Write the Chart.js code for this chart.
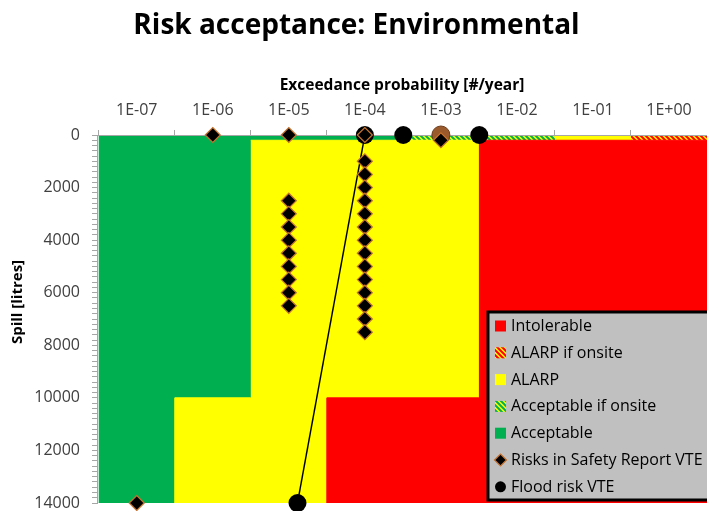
<!DOCTYPE html>
<html>
<head>
<meta charset="utf-8">
<title>Risk acceptance: Environmental</title>
<script src="https://cdn.jsdelivr.net/npm/chart.js@4.4.1/dist/chart.umd.min.js"></script>
<style>
  html, body { margin: 0; padding: 0; background: #ffffff; overflow: hidden; }
  #wrap { width: 707px; height: 511px; position: relative; overflow: hidden; }
  #riskChart { display: block; width: 707px; height: 511px; }
</style>
</head>
<body>
<div id="wrap"><canvas id="riskChart" width="707" height="511"></canvas></div>
<script>
// ---- Axis ticks -------------------------------------------------------------
// Half-decade boundaries carry the tick marks, decades carry the labels.
const xHalfDecades = [3.162e-8, 3.162e-7, 3.162e-6, 3.162e-5, 3.162e-4, 3.162e-3, 3.162e-2, 3.162e-1, 3.162];
const xDecades     = [1e-7, 1e-6, 1e-5, 1e-4, 1e-3, 1e-2, 1e-1, 1e0];
const xTickLabels  = ['1E-07', '1E-06', '1E-05', '1E-04', '1E-03', '1E-02', '1E-01', '1E+00'];
const yTickLabels  = [0, 2000, 4000, 6000, 8000, 10000, 12000, 14000];

// ---- Risk acceptance zones (polygons: exceedance probability / spill litres) ----
const acceptableProb  = [3.162e-8, 3.162e-4, 3.162e-4, 3.162e-6, 3.162e-6, 3.162e-7, 3.162e-7, 3.162e-8];
const acceptableSpill = [0, 0, 200, 200, 10000, 10000, 14000, 14000];

const acceptableOnsiteProb  = [3.162e-4, 3.162e-2, 3.162e-2, 3.162e-4];
const acceptableOnsiteSpill = [0, 0, 200, 200];

const alarpProb  = [3.162e-6, 3.162e-3, 3.162e-3, 3.162e-5, 3.162e-5, 3.162e-7, 3.162e-7, 3.162e-6];
const alarpSpill = [200, 200, 10000, 10000, 14000, 14000, 10000, 10000];

const alarpStripProb  = [3.162e-2, 3.162e-1, 3.162e-1, 3.162e-2];
const alarpStripSpill = [0, 0, 200, 200];

const alarpOnsiteProb  = [3.162e-1, 3.162, 3.162, 3.162e-1];
const alarpOnsiteSpill = [0, 0, 200, 200];

const intolerableProb  = [3.162e-3, 3.162, 3.162, 3.162e-5, 3.162e-5, 3.162e-3];
const intolerableSpill = [200, 200, 14000, 14000, 10000, 10000];

// ---- Assessed risks -----------------------------------------------------------
const safetyProb  = [1e-7, 1e-6, 1e-5,
  1e-5, 1e-5, 1e-5, 1e-5, 1e-5, 1e-5, 1e-5, 1e-5, 1e-5,
  1e-4, 1e-4, 1e-4, 1e-4, 1e-4, 1e-4, 1e-4, 1e-4, 1e-4, 1e-4, 1e-4, 1e-4, 1e-4, 1e-4, 1e-4,
  1e-3];
const safetySpill = [14000, 0, 0,
  2500, 3000, 3500, 4000, 4500, 5000, 5500, 6000, 6500,
  0, 1000, 1500, 2000, 2500, 3000, 3500, 4000, 4500, 5000, 5500, 6000, 6500, 7000, 7500,
  200];

const clusterProb  = [1e-3];
const clusterSpill = [0];

const floodProb  = [1e-4, 1.3e-5];
const floodSpill = [0, 14000];
const floodOnsiteProb  = [3.2e-4, 3.2e-3];
const floodOnsiteSpill = [0, 0];

const legendLabels = ['Intolerable', 'ALARP if onsite', 'ALARP', 'Acceptable if onsite',
                      'Acceptable', 'Risks in Safety Report VTE', 'Flood risk VTE'];

// ---- Styling -------------------------------------------------------------------
const FONT = '"Open Sans", "DejaVu Sans", sans-serif';
const RED = '#ff0000', YELLOW = '#ffff00', GREEN = '#00b050';
const AXIS_GREY = '#a6a6a6';
const TEXT = '#404040';
const DIAMOND_EDGE = '#c8742e';

function stripes(bg, fg) {
  const s = 5;
  const c = document.createElement('canvas');
  c.width = s; c.height = s;
  const g = c.getContext('2d');
  g.fillStyle = bg;
  g.fillRect(0, 0, s, s);
  g.strokeStyle = fg;
  g.lineWidth = 2;
  g.beginPath();
  for (const o of [-s, 0, s]) { g.moveTo(o - 1, -1); g.lineTo(o + s + 1, s + 1); }
  g.stroke();
  return g.createPattern(c, 'repeat');
}
const HATCH_RED = stripes(YELLOW, RED);
const HATCH_GREEN = stripes(YELLOW, GREEN);

const toPoints = (xs, ys) => xs.map((x, i) => ({ x, y: ys[i] }));

function zone(label, xs, ys, fillStyle, solid) {
  return {
    type: 'line', label, isZone: true,
    data: toPoints(xs, ys),
    fill: 'shape',
    backgroundColor: fillStyle,
    borderColor: solid ? fillStyle : 'rgba(0,0,0,0)',
    borderWidth: solid ? 1 : 0,
    pointRadius: 0, pointHoverRadius: 0, pointHitRadius: 0,
    tension: 0, order: 10, clip: 0
  };
}

// Legend drawn inside the plot, plus axis lines restored above the zone fills.
const overlay = {
  id: 'overlay',
  beforeDraw(chart) { chart.$axesRedrawn = false; },
  beforeDatasetDraw(chart, args) {
    const ds = chart.data.datasets[args.index];
    if (!ds.isZone && !chart.$axesRedrawn) {
      chart.$axesRedrawn = true;
      for (const s of [chart.scales.x, chart.scales.y]) {
        s.drawGrid(chart.chartArea);
        if (typeof s.drawBorder === 'function') s.drawBorder();
      }
    }
  },
  afterDraw(chart) {
    const g = chart.ctx;
    // vertical axis title
    g.save();
    g.translate(18, 302);
    g.rotate(-Math.PI / 2);
    g.font = 'bold 15px ' + FONT;
    g.fillStyle = '#000';
    g.textAlign = 'center';
    g.textBaseline = 'middle';
    g.fillText('Spill [litres]', 0, 0);
    g.restore();

    // legend box (runs past the right edge of the canvas)
    const bx = 488, by = 312, bw = 260, bh = 188;
    g.save();
    g.fillStyle = '#c0c0c0';
    g.fillRect(bx, by, bw, bh);
    g.lineWidth = 3;
    g.strokeStyle = '#000';
    g.strokeRect(bx, by, bw, bh);
    const swatches = [RED, HATCH_RED, YELLOW, HATCH_GREEN, GREEN, 'diamond', 'circle'];
    g.font = '16px ' + FONT;
    g.textBaseline = 'middle';
    g.textAlign = 'left';
    legendLabels.forEach((label, i) => {
      const cy = 326 + i * 26.8;
      const cx = 500.5;
      const sw = swatches[i];
      if (sw === 'diamond') {
        g.beginPath();
        g.moveTo(cx - 6, cy); g.lineTo(cx, cy - 6); g.lineTo(cx + 6, cy); g.lineTo(cx, cy + 6);
        g.closePath();
        g.fillStyle = '#000'; g.fill();
        g.lineWidth = 1.2; g.strokeStyle = DIAMOND_EDGE; g.stroke();
      } else if (sw === 'circle') {
        g.beginPath();
        g.arc(cx, cy, 5.5, 0, Math.PI * 2);
        g.fillStyle = '#000'; g.fill();
      } else {
        g.fillStyle = sw;
        g.fillRect(cx - 5.5, cy - 5.5, 11, 11);
      }
      g.fillStyle = '#000';
      g.fillText(label, 511, cy + 0.5);
    });
    g.restore();
  }
};

const chart = new Chart(document.getElementById('riskChart'), {
  type: 'scatter',
  data: {
    datasets: [
      {
        label: 'Risks in Safety Report VTE',
        data: toPoints(safetyProb, safetySpill),
        pointStyle: 'rectRot', pointRadius: 7.5, pointHoverRadius: 7.5,
        backgroundColor: '#000', borderColor: DIAMOND_EDGE, borderWidth: 1.2,
        order: 1, clip: false
      },
      {
        label: 'Risks in Safety Report VTE (grouped)',
        data: toPoints(clusterProb, clusterSpill),
        pointStyle: 'circle', pointRadius: 9, pointHoverRadius: 9,
        backgroundColor: '#9a5a2c', borderColor: '#6e3d1c', borderWidth: 1,
        order: 2, clip: false
      },
      {
        label: 'Flood risk VTE',
        data: toPoints(floodProb, floodSpill),
        showLine: true, borderColor: '#000', borderWidth: 1.4,
        pointStyle: 'circle', pointRadius: 9, pointHoverRadius: 9,
        pointBackgroundColor: '#000', pointBorderColor: '#000', pointBorderWidth: 0,
        order: 3, clip: false
      },
      {
        label: 'Flood risk VTE (onsite)',
        data: toPoints(floodOnsiteProb, floodOnsiteSpill),
        pointStyle: 'circle', pointRadius: 9, pointHoverRadius: 9,
        backgroundColor: '#000', borderColor: '#000', borderWidth: 0,
        order: 3, clip: false
      },
      zone('Intolerable', intolerableProb, intolerableSpill, RED, true),
      zone('ALARP if onsite', alarpOnsiteProb, alarpOnsiteSpill, HATCH_RED, false),
      zone('ALARP', alarpProb, alarpSpill, YELLOW, true),
      zone('ALARP', alarpStripProb, alarpStripSpill, YELLOW, true),
      zone('Acceptable if onsite', acceptableOnsiteProb, acceptableOnsiteSpill, HATCH_GREEN, false),
      zone('Acceptable', acceptableProb, acceptableSpill, GREEN, true)
    ]
  },
  options: {
    responsive: false,
    maintainAspectRatio: false,
    animation: false,
    events: [],
    // the plot area continues a few pixels past the right and bottom edges
    layout: { autoPadding: false, padding: { left: 0, right: -6, top: 0, bottom: 8 } },
    plugins: {
      legend: { display: false },
      tooltip: { enabled: false },
      title: {
        display: true,
        text: 'Risk acceptance: Environmental',
        color: '#000',
        font: { family: FONT, size: 28, weight: 'bold', lineHeight: 1.2 },
        padding: { top: 9, bottom: 7.4 }
      }
    },
    scales: {
      x: {
        type: 'logarithmic',
        position: 'top',
        min: xHalfDecades[0],
        max: xHalfDecades[xHalfDecades.length - 1],
        afterBuildTicks(scale) {
          const ticks = [];
          xHalfDecades.forEach((v, i) => {
            ticks.push({ value: v });
            if (i < xDecades.length) ticks.push({ value: xDecades[i] });
          });
          scale.ticks = ticks;
        },
        afterFit(scale) {
          scale.height = 85;
          scale.paddingLeft = 0;
          scale.paddingRight = 0;
        },
        ticks: {
          autoSkip: false, maxRotation: 0, minRotation: 0,
          padding: 10,
          color: TEXT,
          font: { family: FONT, size: 16 },
          callback: (value, index) => (index % 2 === 1 ? xTickLabels[(index - 1) / 2] : '')
        },
        grid: {
          drawOnChartArea: false,
          tickLength: 5,
          tickColor: (c) => (c.index % 2 === 1 ? 'rgba(0,0,0,0)' : AXIS_GREY)
        },
        border: { color: AXIS_GREY, width: 1 },
        title: {
          display: true,
          text: 'Exceedance probability [#/year]',
          color: '#000',
          font: { family: FONT, size: 15.5, weight: 'bold' },
          padding: { top: 26, bottom: 0 }
        }
      },
      y: {
        type: 'linear',
        reverse: true,
        min: 0,
        max: 14000,
        afterBuildTicks(scale) {
          const ticks = [];
          for (let v = 0; v <= 14000; v += 200) ticks.push({ value: v });
          scale.ticks = ticks;
        },
        afterFit(scale) {
          scale.width = 97;
          scale.paddingTop = 0;
          scale.paddingBottom = 0;
        },
        ticks: {
          autoSkip: false,
          padding: 12,
          color: TEXT,
          font: { family: FONT, size: 16 },
          callback: (value) => (yTickLabels.includes(value) ? String(value) : '')
        },
        grid: { drawOnChartArea: false, tickLength: 5, tickColor: AXIS_GREY },
        border: { color: AXIS_GREY, width: 1 },
        title: { display: false }
      }
    }
  },
  plugins: [overlay]
});
</script>
</body>
</html>
